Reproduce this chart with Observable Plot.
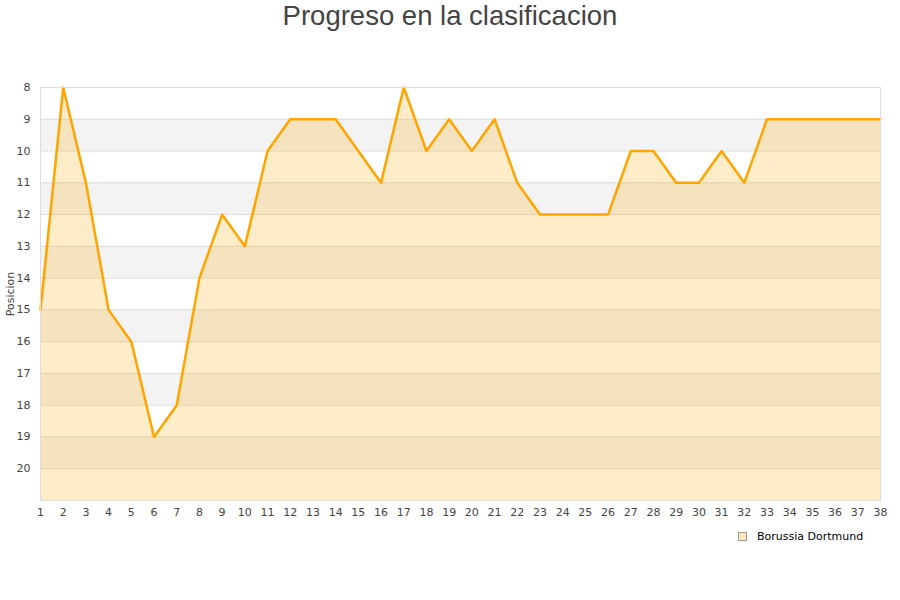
<!DOCTYPE html>
<html><head><meta charset="utf-8">
<script src="https://cdn.jsdelivr.net/npm/d3@7"></script>
<script src="https://cdn.jsdelivr.net/npm/@observablehq/plot@0.6"></script>
<style>
body{margin:0;background:#fff;}
#wrap{position:relative;width:900px;height:600px;}
#title{position:absolute;left:0;top:0;width:900px;text-align:center;font-family:"Liberation Sans",Arial,sans-serif;font-size:27.5px;color:#444;line-height:32px;}
#legend{position:absolute;left:738px;top:530px;font-family:"DejaVu Sans",sans-serif;font-size:11px;color:#000;display:flex;align-items:center;}
#legend span.sw{display:inline-block;width:7px;height:7px;border:1px solid #999;background:#fde8c0;margin-right:10px;}
#wrap svg{position:absolute;left:0;top:0;}
</style></head>
<body><div id="wrap"><div id="title">Progreso en la clasificacion</div><div id="legend"><span class="sw"></span>Borussia Dortmund</div></div>
<script>
const jornadas = d3.range(1, 39);
const posiciones = [15,8,11,15,16,19,18,14,12,13,10,9,9,9,10,11,8,10,9,10,9,11,12,12,12,12,10,10,11,11,10,11,9,9,9,9,9,9];
const yTicks = [8,9,10,11,12,13,14,15,16,17,18,19,20];
const bandas = [[9,10],[11,12],[13,14],[15,16],[17,18],[19,20]];
const equipo = "Borussia Dortmund";
const data = jornadas.map((j, i) => ({j, p: posiciones[i]}));
const bands = bandas.map(([a, b]) => ({a, b}));
const chart = Plot.plot({
  width: 900, height: 600,
  marginTop: 87, marginBottom: 100, marginLeft: 40, marginRight: 20,
  style: {fontFamily: "DejaVu Sans, sans-serif", fontSize: "11px", color: "#444", background: "transparent"},
  x: {domain: [1, 38], ticks: jornadas, tickSize: 0, tickPadding: 8, label: null, tickFormat: d => d},
  y: {domain: [8, 21], reverse: true, ticks: yTicks, tickSize: 0, tickPadding: 10, label: null},
  marks: [
    Plot.rect(bands, {x1: 1, x2: 38, y1: "a", y2: "b", fill: "#f3f3f3"}),
    Plot.ruleY(yTicks, {stroke: "#ddd", strokeWidth: 1}),
    Plot.areaY(data, {x: "j", y1: 21, y2: "p", fill: "#FFA500", fillOpacity: 0.21}),
    Plot.line(data, {x: "j", y: "p", stroke: "#FFA500", strokeWidth: 2.5}),
    Plot.frame({stroke: "#ddd"}),
    Plot.axisX({ticks: jornadas, tickSize: 0, tickPadding: 8, fill: "#444"}),
    Plot.axisY({ticks: yTicks, tickSize: 0, tickPadding: 10, fill: "#444"}),
    Plot.text(["Posicion"], {frameAnchor: "left", dx: -30, rotate: -90, textAnchor: "middle", fill: "#444", fontSize: 11})
  ]
});
document.getElementById("wrap").prepend(chart);
</script></body></html>
